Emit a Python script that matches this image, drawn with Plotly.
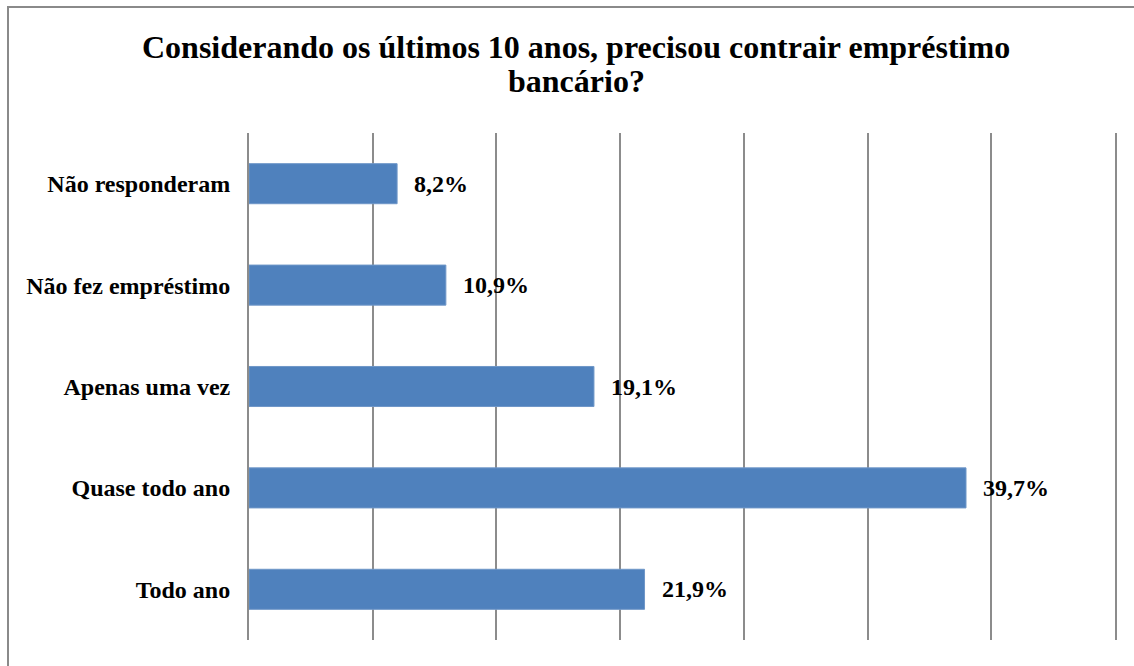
import plotly.graph_objects as go

categories = ["Todo ano", "Quase todo ano", "Apenas uma vez", "Não fez empréstimo", "Não responderam"]
values = [21.9, 39.7, 19.1, 10.9, 8.2]
labels = [f"{v:.1f}%".replace(".", ",") for v in values]

title_lines = ["Considerando os últimos 10 anos, precisou contrair empréstimo", "bancário?"]

BAR = "#4f81bd"
GRID = "#8c8c8c"
FONT = "Liberation Serif"

W, H = 1134, 666
L, R, T, B = 249, 19, 133, 26
pw, ph = W - L - R, H - T - B
XMAX = 47.95


def px_x(x):
    return (x - L) / pw


def px_y(y):
    return (H - B - y) / ph


fig = go.Figure(go.Bar(
    x=values, y=categories, orientation="h",
    marker=dict(color=BAR, line=dict(color="#6f97c8", width=1)),
    width=0.395, hoverinfo="skip",
))

for v, c, t in zip(values, categories, labels):
    fig.add_annotation(x=v, y=c, text=f"<b>{t}</b>", showarrow=False,
                       xanchor="left", yanchor="middle", xshift=15,
                       font=dict(family=FONT, size=24, color="black"))

for i, line in enumerate(title_lines):
    fig.add_annotation(xref="paper", yref="paper", x=px_x(576), y=px_y(47 + 34 * i),
                       text=f"<b>{line}</b>", showarrow=False,
                       xanchor="center", yanchor="middle",
                       font=dict(family=FONT, size=32, color="black"))

# chart border
fig.add_shape(type="rect", xref="paper", yref="paper",
              x0=px_x(8), x1=px_x(1145), y0=px_y(680), y1=px_y(7),
              line=dict(color="#8a8a8a", width=2), layer="below")

fig.update_layout(
    width=W, height=H,
    margin=dict(l=L, r=R, t=T, b=B, autoexpand=False),
    paper_bgcolor="white", plot_bgcolor="white",
    showlegend=False,
    xaxis=dict(range=[0, XMAX], dtick=XMAX / 7, tick0=0, showgrid=True,
               gridcolor=GRID, gridwidth=2, showticklabels=False,
               zeroline=False, showline=False, fixedrange=True),
    yaxis=dict(showgrid=False, zeroline=False, ticks="", automargin=False,
               showline=True, mirror=True, linecolor=GRID, linewidth=2,
               ticklabelstandoff=12,
               tickfont=dict(family=FONT, size=24, color="black", weight="bold"),
               fixedrange=True),
)

fig.write_html("out.html", config={"displayModeBar": False},
               post_script="document.body.style.margin='0';document.body.style.overflow='hidden';")
